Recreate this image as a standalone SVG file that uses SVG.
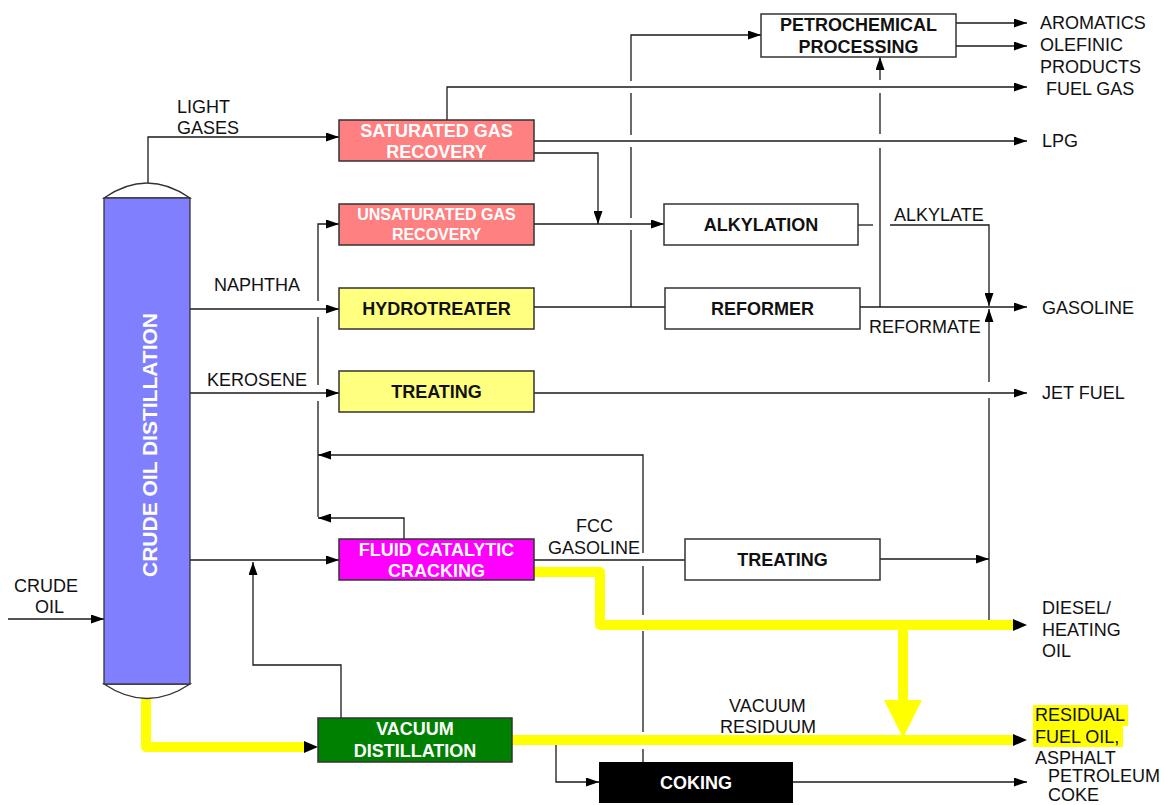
<svg xmlns="http://www.w3.org/2000/svg" width="1164" height="805" viewBox="0 0 1164 805">
<style>
.ln{fill:none;stroke:#1a1a1a;stroke-width:1.3}
.yl{fill:none;stroke:#ffff00;stroke-width:10;stroke-linejoin:round;stroke-linecap:butt}
.box{stroke:#333;stroke-width:1.5}
.bt{font-family:"Liberation Sans",Arial,sans-serif;font-weight:bold;font-size:18px;text-anchor:middle}
.lb{font-family:"Liberation Sans",Arial,sans-serif;font-size:18px;fill:#111}
.w{fill:#fff}
.k{fill:#111}
</style>
<defs>
<marker id="ar" markerUnits="userSpaceOnUse" markerWidth="13" markerHeight="9" refX="13" refY="4.5" orient="auto">
<path d="M0,0 L13,4.5 L0,9 z" fill="#000"/>
</marker>
</defs>
<rect width="1164" height="805" fill="#fff"/>

<g id="connectors">
<path class="ln" d="M8,619 H104" marker-end="url(#ar)"/>
<path class="ln" d="M148,183 V137 H339" marker-end="url(#ar)"/>
<path class="ln" d="M190,309 H339" marker-end="url(#ar)"/>
<path class="ln" d="M190,393 H339" marker-end="url(#ar)"/>
<path class="ln" d="M190,560 H339" marker-end="url(#ar)"/>
<path class="ln" d="M318,301 V224 H339" marker-end="url(#ar)"/>
<path class="ln" d="M318,317 V385"/>
<path class="ln" d="M318,401 V517"/>
<path class="ln" d="M404,539 V518 H318" marker-end="url(#ar)"/>
<path class="ln" d="M643,762 V749"/>
<path class="ln" d="M643,732 V631"/>
<path class="ln" d="M643,615 V566"/>
<path class="ln" d="M643,553 V455 H318" marker-end="url(#ar)"/>
<path class="ln" d="M534,560 H685"/>
<path class="ln" d="M880,559 H989" marker-end="url(#ar)"/>
<path class="ln" d="M341,718 V665 H253 V562" marker-end="url(#ar)"/>
<path class="ln" d="M556,740 V782 H599" marker-end="url(#ar)"/>
<path class="ln" d="M793,782 H1027" marker-end="url(#ar)"/>
<path class="ln" d="M447,120 V87 H1027" marker-end="url(#ar)"/>
<path class="ln" d="M534,141 H1027" marker-end="url(#ar)"/>
<path class="ln" d="M534,153 H598 V224" marker-end="url(#ar)"/>
<path class="ln" d="M534,224 H664" marker-end="url(#ar)"/>
<path class="ln" d="M631,307 V230"/>
<path class="ln" d="M631,218 V147"/>
<path class="ln" d="M631,135 V93"/>
<path class="ln" d="M631,81 V35 H761" marker-end="url(#ar)"/>
<path class="ln" d="M534,307 H665"/>
<path class="ln" d="M860,307 H1027" marker-end="url(#ar)"/>
<path class="ln" d="M880,307 V148"/>
<path class="ln" d="M880,134 V93"/>
<path class="ln" d="M880,80 V57" marker-end="url(#ar)"/>
<path class="ln" d="M858,225 H873"/>
<path class="ln" d="M890,225 H989 V306" marker-end="url(#ar)"/>
<path class="ln" d="M989,382 V309" marker-end="url(#ar)"/>
<path class="ln" d="M989,398 V625"/>
<path class="ln" d="M534,393 H1027" marker-end="url(#ar)"/>
<path class="ln" d="M956,23 H1027" marker-end="url(#ar)"/>
<path class="ln" d="M956,46 H1027" marker-end="url(#ar)"/>

<path class="yl" d="M146,698 V747 H305"/>
<polygon points="304,741 318,747 304,753" fill="#000"/>
<path class="yl" d="M534,572 H600 V625 H1013"/>
<polygon points="1013,619 1027,625 1013,631" fill="#000"/>
<path class="yl" d="M903,625 V702"/>
<polygon points="884,700 922,700 903,738" fill="#ffff00"/>
<path class="yl" d="M512,740 H1013"/>
<polygon points="1013,734 1027,740 1013,746" fill="#000"/>
</g>

<g id="column">
<path d="M104,198 Q147,168 190,198 Z" fill="#fff" stroke="#333" stroke-width="1.3"/>
<path d="M104,684 Q147,713 190,684 Z" fill="#fff" stroke="#333" stroke-width="1.3"/>
<rect x="104" y="198" width="86" height="486" fill="#8080ff" stroke="#333" stroke-width="1.3"/>
<text class="bt w" style="font-size:21px" transform="translate(157,445) rotate(-90)">CRUDE OIL DISTILLATION</text>
</g>

<g id="petrochemical">
<rect class="box" x="761" y="14" width="195" height="43" fill="#fff"/>
<text class="bt k" x="858.5" y="31">PETROCHEMICAL</text>
<text class="bt k" x="858.5" y="53">PROCESSING</text>
</g>

<g id="saturated-gas">
<rect class="box" x="339" y="120" width="195" height="41" fill="#ff8080"/>
<text class="bt w" x="436.5" y="137">SATURATED GAS</text>
<text class="bt w" x="436.5" y="158">RECOVERY</text>
</g>

<g id="unsaturated-gas">
<rect class="box" x="339" y="204" width="195" height="41" fill="#ff8080"/>
<text class="bt w" style="font-size:16px" x="436.5" y="220">UNSATURATED GAS</text>
<text class="bt w" style="font-size:16px" x="436.5" y="240">RECOVERY</text>
</g>

<g id="alkylation">
<rect class="box" x="664" y="204" width="194" height="41" fill="#fff"/>
<text class="bt k" x="761" y="231">ALKYLATION</text>
</g>

<g id="hydrotreater">
<rect class="box" x="339" y="288" width="195" height="41" fill="#ffff80"/>
<text class="bt k" x="436.5" y="315">HYDROTREATER</text>
</g>

<g id="reformer">
<rect class="box" x="665" y="288" width="195" height="41" fill="#fff"/>
<text class="bt k" x="762.5" y="315">REFORMER</text>
</g>

<g id="treating-1">
<rect class="box" x="339" y="371" width="195" height="41" fill="#ffff80"/>
<text class="bt k" x="436.5" y="398">TREATING</text>
</g>

<g id="fcc">
<rect class="box" x="339" y="539" width="195" height="41" fill="#ff00ff"/>
<text class="bt w" x="436.5" y="556">FLUID CATALYTIC</text>
<text class="bt w" x="436.5" y="577">CRACKING</text>
</g>

<g id="treating-2">
<rect class="box" x="685" y="539" width="195" height="41" fill="#fff"/>
<text class="bt k" x="782.5" y="566">TREATING</text>
</g>

<g id="vacuum-distillation">
<rect class="box" x="318" y="718" width="194" height="44" fill="#008000"/>
<text class="bt w" x="415" y="735">VACUUM</text>
<text class="bt w" x="415" y="757">DISTILLATION</text>
</g>

<g id="coking">
<rect x="599" y="762" width="194" height="41" fill="#000"/>
<text class="bt w" x="696" y="789">COKING</text>
</g>

<g id="labels">
<rect x="1033" y="705" width="95" height="21" fill="#ffff00"/>
<rect x="1033" y="726" width="90" height="21" fill="#ffff00"/>
<text class="lb" x="1040" y="29">AROMATICS</text>
<text class="lb" x="1040" y="51">OLEFINIC</text>
<text class="lb" x="1040" y="73">PRODUCTS</text>
<text class="lb" x="1046" y="95">FUEL GAS</text>
<text class="lb" x="1042" y="147">LPG</text>
<text class="lb" x="1042" y="314">GASOLINE</text>
<text class="lb" x="1042" y="399">JET FUEL</text>
<text class="lb" x="1042" y="614">DIESEL/</text>
<text class="lb" x="1042" y="636">HEATING</text>
<text class="lb" x="1042" y="657">OIL</text>
<text class="lb" x="1035" y="721">RESIDUAL</text>
<text class="lb" x="1035" y="743">FUEL OIL,</text>
<text class="lb" x="1035" y="764">ASPHALT</text>
<text class="lb" x="1048" y="782">PETROLEUM</text>
<text class="lb" x="1048" y="801">COKE</text>
<text class="lb" x="177" y="113">LIGHT</text>
<text class="lb" x="177" y="134">GASES</text>
<text class="lb" x="214" y="291">NAPHTHA</text>
<text class="lb" x="207" y="386">KEROSENE</text>
<text class="lb" x="894" y="221">ALKYLATE</text>
<text class="lb" x="869" y="333">REFORMATE</text>
<text class="lb" x="14" y="592">CRUDE</text>
<text class="lb" x="35" y="613">OIL</text>
<text class="lb" x="576" y="532">FCC</text>
<text class="lb" x="548" y="554">GASOLINE</text>
<text class="lb" x="729" y="712">VACUUM</text>
<text class="lb" x="720" y="733">RESIDUUM</text>
</g>
</svg>
